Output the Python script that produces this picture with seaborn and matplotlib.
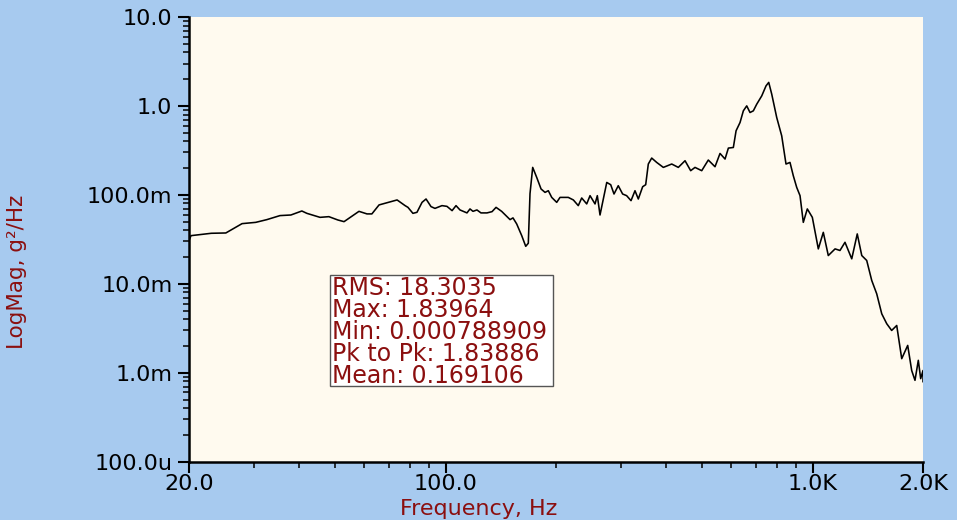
import matplotlib
matplotlib.use("Agg")
import matplotlib.pyplot as plt
from matplotlib.patches import Rectangle
from matplotlib.ticker import FixedLocator, FixedFormatter, LogLocator, NullFormatter
import seaborn as sns
import pandas as pd

# Power spectral density trace (Hz, g^2/Hz)
freq_hz = [
    20.0, 20.25, 23.0, 25.2, 27.9, 30.4, 32.6, 35.4, 37.9, 40.6, 41.9, 45.5, 48.1, 50.9,
    52.9, 58.1, 61.1, 63.0, 65.9, 73.8, 77.6, 79.0, 81.5, 83.6, 86.3, 88.5, 91.3, 93.6,
    97.8, 100.9, 104.2, 106.8, 109.5, 114.4, 116.6, 118.8, 121.8, 124.9, 129.7, 133.9,
    137.3, 142.2, 149.9, 152.7, 156.3, 161.3, 165.4, 168.1, 169.9, 172.8, 177.2, 182.1,
    186.7, 190.6, 194.7, 200.9, 205.1, 216.0, 223.0, 230.0, 235.0, 242.5, 247.6, 255.5,
    259.2, 263.6, 275.0, 281.9, 287.8, 295.6, 303.8, 311.5, 320.2, 328.3, 335.2, 344.5,
    351.1, 356.9, 364.6, 376.2, 392.2, 413.4, 430.8, 449.4, 465.6, 478.4, 499.0, 520.0,
    542.4, 559.7, 577.6, 589.8, 608.5, 619.0, 634.6, 647.9, 661.8, 675.6, 689.8, 704.7,
    727.2, 747.0, 759.8, 774.2, 798.8, 824.2, 846.7, 868.2, 886.4, 905.6, 924.6, 943.8,
    967.8, 998.8, 1037, 1070, 1104, 1152, 1188, 1226, 1279, 1324, 1362, 1405, 1450, 1496,
    1544, 1593, 1643, 1696, 1750, 1817, 1863, 1902, 1942, 1971, 2000, 2000,
]
psd_g2hz = [
    0.0306, 0.0348, 0.0370, 0.0373, 0.0475, 0.0491, 0.0527, 0.0585, 0.0594, 0.0659, 0.0620,
    0.0559, 0.0569, 0.0522, 0.0500, 0.0653, 0.0611, 0.0611, 0.0771, 0.0877, 0.0757, 0.0724,
    0.0620, 0.0637, 0.0824, 0.0899, 0.0738, 0.0705, 0.0757, 0.0743, 0.0665, 0.0757, 0.0677,
    0.0627, 0.0695, 0.0653, 0.0677, 0.0627, 0.0627, 0.0648, 0.0724, 0.0653, 0.0527, 0.0551,
    0.0471, 0.0348, 0.0264, 0.0286, 0.1031, 0.2037, 0.1572, 0.1165, 0.1067, 0.1114, 0.0937,
    0.0824, 0.0937, 0.0937, 0.0877, 0.0757, 0.0923, 0.0791, 0.0980, 0.0791, 0.0980, 0.0594,
    0.1380, 0.1301, 0.1023, 0.1268, 0.1023, 0.0980, 0.0861, 0.1114, 0.0899, 0.1236, 0.1301,
    0.2223, 0.2594, 0.2317, 0.2037, 0.2223, 0.2037, 0.2421, 0.1871, 0.2037, 0.1871, 0.2465,
    0.2072, 0.2924, 0.2529, 0.3358, 0.3412, 0.5257, 0.6513, 0.8810, 1.002, 0.8433, 0.8810,
    1.047, 1.298, 1.682, 1.83964, 1.357, 0.7413, 0.4613, 0.2223, 0.2317, 0.1641, 0.1213,
    0.0980, 0.0491, 0.0695, 0.0559, 0.0247, 0.0379, 0.0208, 0.0247, 0.0237, 0.0293, 0.0191,
    0.0364, 0.0208, 0.0183, 0.0109, 0.00772, 0.00460, 0.00356, 0.00299, 0.00340, 0.00144,
    0.00203, 0.00106, 0.000822, 0.00138, 0.000859, 0.00106, 0.000788909,
]

x_major = [20, 100, 1000, 2000]
x_major_labels = ["20.0", "100.0", "1.0K", "2.0K"]
x_minor = [30, 40, 50, 60, 70, 80, 90, 200, 300, 400, 500, 600, 700, 800, 900]
y_major = [1e-4, 1e-3, 1e-2, 1e-1, 1, 10]
y_major_labels = ["100.0u", "1.0m", "10.0m", "100.0m", "1.0", "10.0"]

stats_lines = [
    "RMS: 18.3035",
    "Max: 1.83964",
    "Min: 0.000788909",
    "Pk to Pk: 1.83886",
    "Mean: 0.169106",
]

FIG_BG = "#A7CAEF"
PLOT_BG = "#FFFAEF"
LABEL_RED = "#8B0F0F"

sns.set_style("ticks")
plt.rcParams["font.family"] = ["DejaVu Sans"]

W, H = 957, 520
fig = plt.figure(figsize=(W / 100, H / 100), dpi=100, facecolor=FIG_BG)
ax_l, ax_r, ax_t, ax_b = 189, 923, 17, 461.7
ax = fig.add_axes([ax_l / W, 1 - ax_b / H, (ax_r - ax_l) / W, (ax_b - ax_t) / H])
ax.set_facecolor(PLOT_BG)

df = pd.DataFrame({"Frequency": freq_hz, "PSD": psd_g2hz})
sns.lineplot(data=df, x="Frequency", y="PSD", ax=ax, color="black",
             linewidth=1.15, estimator=None, sort=False)

ax.set_xscale("log")
ax.set_yscale("log")
ax.set_xlim(20, 2000)
ax.set_ylim(1e-4, 10)

ax.xaxis.set_major_locator(FixedLocator(x_major))
ax.xaxis.set_major_formatter(FixedFormatter(x_major_labels))
ax.xaxis.set_minor_locator(FixedLocator(x_minor))
ax.xaxis.set_minor_formatter(NullFormatter())
ax.yaxis.set_major_locator(FixedLocator(y_major))
ax.yaxis.set_major_formatter(FixedFormatter(y_major_labels))
ax.yaxis.set_minor_locator(LogLocator(base=10, subs=range(2, 10), numticks=20))
ax.yaxis.set_minor_formatter(NullFormatter())

for side in ("top", "right"):
    ax.spines[side].set_visible(False)
for side in ("left", "bottom"):
    ax.spines[side].set_color("black")
    ax.spines[side].set_linewidth(1.8)

ax.tick_params(which="major", length=8, width=1.5, color="black", labelsize=16,
               labelcolor="black")
ax.tick_params(which="minor", length=4, width=1.1, color="black")
ax.tick_params(axis="y", which="major", pad=4)
ax.tick_params(axis="x", which="major", pad=0.5)

ax.set_xlabel("Frequency, Hz", color=LABEL_RED, fontsize=16)
ax.xaxis.set_label_coords((479 - ax_l) / (ax_r - ax_l), -(509 - ax_b) / (ax_b - ax_t))
ax.xaxis.label.set_va("center")
ax.set_ylabel("LogMag, g²/Hz", color=LABEL_RED, fontsize=15.5)
ax.yaxis.set_label_coords((17 - ax_l) / (ax_r - ax_l), (ax_b - 272) / (ax_b - ax_t))
ax.yaxis.label.set_va("center")

# Statistics readout box
bx0, by0, bx1, by1 = 330, 275, 553, 386
fig.patches.append(Rectangle((bx0 / W, 1 - by1 / H), (bx1 - bx0) / W, (by1 - by0) / H,
                             transform=fig.transFigure, facecolor="white",
                             edgecolor="#555555", linewidth=1.0, zorder=5))
for i, line in enumerate(stats_lines):
    yb = 295 + i * 22.1
    fig.text(332 / W, 1 - yb / H, line, color=LABEL_RED, fontsize=17,
             ha="left", va="baseline", zorder=6)

fig.savefig("out.png", dpi=100, facecolor=FIG_BG)
